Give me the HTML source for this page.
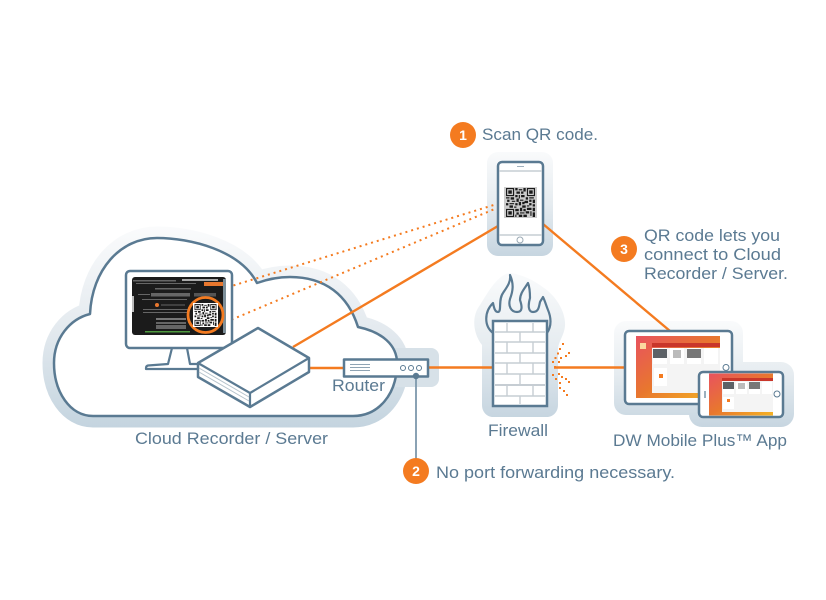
<!DOCTYPE html>
<html><head><meta charset="utf-8"><style>
html,body{margin:0;padding:0;background:#fff}
svg{display:block}
text{font-family:"Liberation Sans",sans-serif;fill:#5b7a92;font-size:17px}
.n{fill:#fff;font-weight:bold;font-size:14px;text-anchor:middle}
.o{fill:none;stroke:#f47b20;stroke-width:2.4}
.d{fill:none;stroke:#f47b20;stroke-width:2;stroke-dasharray:2 4}
.b{fill:#fff;stroke:#5a7a92;stroke-width:2.5;stroke-linejoin:round}
.g{stroke:#c6cdd3;stroke-width:1.4;fill:none}
</style></head><body>
<svg width="826" height="600" viewBox="0 0 826 600" xmlns="http://www.w3.org/2000/svg">
<defs>
<linearGradient id="h1" gradientUnits="userSpaceOnUse" x1="0" y1="228" x2="0" y2="428"><stop offset="0" stop-color="#fafbfc"/><stop offset=".5" stop-color="#e4eaef"/><stop offset="1" stop-color="#c4d4df"/></linearGradient>
<linearGradient id="h2" gradientUnits="userSpaceOnUse" x1="0" y1="150" x2="0" y2="257"><stop offset="0" stop-color="#fafbfc"/><stop offset=".5" stop-color="#e6ecf0"/><stop offset="1" stop-color="#c6d5e0"/></linearGradient>
<linearGradient id="h3" gradientUnits="userSpaceOnUse" x1="0" y1="272" x2="0" y2="418"><stop offset="0" stop-color="#fafbfc"/><stop offset=".5" stop-color="#e6ecf0"/><stop offset="1" stop-color="#c6d5e0"/></linearGradient>
<linearGradient id="h4" gradientUnits="userSpaceOnUse" x1="0" y1="320" x2="0" y2="428"><stop offset="0" stop-color="#fafbfc"/><stop offset=".5" stop-color="#e6ecf0"/><stop offset="1" stop-color="#c6d5e0"/></linearGradient>
<linearGradient id="sc" x1="0" y1="0" x2="1" y2="1"><stop offset="0" stop-color="#e8525f"/><stop offset=".5" stop-color="#e8772e"/><stop offset="1" stop-color="#f5b324"/></linearGradient>
<symbol id="qr" viewBox="0 0 25 25">
<path fill="#1a1a1a" fill-rule="evenodd" d="M0 0h7v7H0zM1 1v5h5V1zM2 2h3v3H2zM18 0h7v7h-7zM19 1v5h5V1zM20 2h3v3h-3zM0 18h7v7H0zM1 19v5h5v-5zM2 20h3v3H2zM8 0h2v2H8zM11 1h3v1h-3zM15 0h2v3h-2zM9 3h3v2H9zM13 3h2v2h-2zM8 6h2v2H8zM11 6h1v3h-1zM13 6h3v2h-3zM0 8h3v1H0zM4 8h3v2H4zM17 8h2v2h-2zM20 8h4v1h-4zM1 10h2v2H1zM5 11h3v1H5zM9 9h2v3H9zM12 10h3v1h-3zM16 11h3v2h-3zM20 10h2v2h-2zM23 10h2v3h-2zM0 13h2v2H0zM3 13h4v1H3zM8 13h2v2H8zM11 12h2v3h-2zM14 12h2v2h-2zM20 13h2v2h-2zM3 15h3v2H3zM7 16h2v1H7zM14 15h3v2h-3zM18 15h2v1h-2zM23 14h2v2h-2zM8 18h3v2H8zM12 17h2v3h-2zM15 18h2v2h-2zM18 17h4v2h-4zM23 17h2v3h-2zM9 21h2v2H9zM12 21h4v1h-4zM17 20h3v2h-3zM21 20h1v4h-1zM8 23h1v2H8zM11 23h3v2h-3zM15 23h3v2h-3zM23 21h2v4h-2z"/>
</symbol>
</defs>

<!-- halos -->
<path d="M93 416C70 416 54 392 54 363C54 338 70 319 90 314C92 270 120 238 157 238C190 238 240 250 257 283C268 279 278 277 290 277C325 277 348 295 358 327C382 332 397 345 397 363C397 395 378 416 353 416Z" fill="url(#h1)" stroke="url(#h1)" stroke-width="23" stroke-linejoin="round"/>
<rect x="380" y="348" width="59" height="39" rx="8" fill="#d7e1e8"/>
<rect x="487" y="152" width="66" height="104" rx="11" fill="url(#h2)"/>
<path d="M482 405V345C472 332 472 315 480 305C486 296 498 272 512 273C522 275 534 280 544 288C556 296 566 312 565 326C564 336 558 342 558 350V405C558 412 553 417 547 417H493C487 417 482 412 482 405Z" fill="url(#h3)"/>
<rect x="614" y="321" width="129" height="94" rx="12" fill="url(#h4)"/>
<rect x="689" y="362" width="105" height="65" rx="13" fill="url(#h4)"/>

<!-- cloud -->
<path d="M93 416C70 416 54 392 54 363C54 338 70 319 90 314C92 270 120 238 157 238C190 238 240 250 257 283C268 279 278 277 290 277C325 277 348 295 358 327C382 332 397 345 397 363C397 395 378 416 353 416Z" fill="#fff" stroke="#5a7a92" stroke-width="2.5" stroke-linejoin="round"/>

<!-- orange lines -->
<line class="d" x1="222" y1="289" x2="497" y2="204"/>
<line class="d" x1="226" y1="322" x2="497" y2="208"/>
<line class="o" x1="293" y1="347" x2="498" y2="226"/>
<line class="o" x1="305" y1="368" x2="344" y2="368"/>
<line class="o" x1="428" y1="367.500" x2="494" y2="367.500"/>
<line class="o" x1="554" y1="367.500" x2="626" y2="367.500"/>
<line class="o" x1="543" y1="224" x2="670" y2="331"/>

<!-- monitor -->
<path d="M172 348L168 364L148 365.500Q146 366 146 368V369H205M187 348L190 364H205" fill="#fff" stroke="#5a7a92" stroke-width="2.2" stroke-linejoin="round"/>
<rect x="126" y="271" width="106" height="77" rx="4" class="b"/>
<rect x="132" y="277" width="94" height="58" rx="3" fill="#1b1b1b"/>
<rect x="223" y="279" width="3" height="54" fill="#7d8f99"/>
<rect x="133" y="280" width="43" height="1.500" fill="#666"/>
<rect x="182" y="279" width="36" height="2" fill="#aaa"/>
<rect x="204" y="282" width="19" height="4" fill="#e8772e"/>
<rect x="136" y="283" width="60" height="1" fill="#666"/>
<rect x="155" y="288" width="36" height="1.500" fill="#666"/>
<rect x="138" y="294" width="12" height="1" fill="#666"/>
<rect x="151" y="293" width="39" height="3.500" fill="#666"/>
<rect x="194" y="293" width="22" height="3.500" fill="#555"/>
<rect x="142" y="299" width="45" height="1" fill="#666"/>
<rect x="132" y="296" width="2" height="16" fill="#bbb"/>
<circle cx="157" cy="305" r="2" fill="#e8772e"/>
<rect x="161" y="304.500" width="24" height="1" fill="#666"/>
<rect x="143" y="309" width="45" height="1" fill="#666"/>
<rect x="143" y="312" width="45" height="1" fill="#666"/>
<rect x="156" y="318" width="30" height="2" fill="#777"/>
<rect x="156" y="322" width="30" height="2" fill="#666"/>
<rect x="156" y="325" width="30" height="4" fill="#666"/>
<rect x="145" y="331" width="45" height="1.500" fill="#4e9a3f"/>
<circle cx="205.500" cy="315" r="17.500" fill="#1b1b1b" stroke="#f47b20" stroke-width="2.800"/>
<rect x="193" y="303" width="25" height="24" fill="#fff"/>
<use href="#qr" x="194" y="304" width="23" height="22"/>

<!-- server -->
<path d="M258 328L309 358L309 372L250 407L198 377L198 363Z" fill="#fff" stroke="#5a7a92" stroke-width="2.500" stroke-linejoin="round"/>
<path d="M198 363L250 393L309 358M250 393V407" fill="none" stroke="#5a7a92" stroke-width="2.200" stroke-linejoin="round"/>
<path d="M199 368L249 397M199 372L249 401" stroke="#b6c3cc" stroke-width="1" fill="none"/>

<!-- router -->
<rect x="344" y="359.500" width="84" height="17" class="b"/>
<path d="M350 364.500H370M350 367.500H370M350 370.500H370" stroke="#8fa4b4" stroke-width="1" fill="none"/>
<circle cx="403" cy="368" r="2.500" fill="#fff" stroke="#5a7a92"/>
<circle cx="411" cy="368" r="2.500" fill="#fff" stroke="#5a7a92"/>
<circle cx="419" cy="368" r="2.500" fill="#fff" stroke="#5a7a92"/>
<line x1="416" y1="376" x2="416" y2="460" stroke="#7d98ab" stroke-width="1.800"/>
<circle cx="416" cy="376" r="3.200" fill="#5a7a92"/>

<!-- phone -->
<rect x="498" y="162" width="45" height="83" rx="4" class="b"/>
<path d="M499 171H542M499 235H542" stroke="#c6cdd3" stroke-width="1.500"/>
<line x1="517" y1="166.500" x2="524" y2="166.500" stroke="#9fb0bd"/>
<circle cx="520" cy="240" r="3" fill="#fff" stroke="#9aa9b4"/>
<rect x="504" y="187" width="33" height="31" fill="#ccc"/>
<use href="#qr" x="505" y="188" width="31" height="29"/>

<!-- firewall -->
<path d="M493 333C484 326 484 312 493 303C494 308 495 312 498 312C502 312 498 300 503 293C507 287 511 282 510 275C514 284 513 291 510 299C508 306 511 312 517 312C523 312 522 306 520 300C520 293 525 288 528 283C530 288 530 293 530 298C528 305 528 312 533 312C539 312 539 306 540 302C541 300 542 299 543 297C545 301 546 305 548 310C551 317 552 326 547 333" fill="none" stroke="#5a7a92" stroke-width="2.200" stroke-linejoin="round"/>
<rect x="493" y="321" width="54" height="85" fill="#fff" stroke="#5a7a92" stroke-width="2.500"/>
<path class="g" d="M495 332H545M495 342H545M495 353H545M495 363H545M495 374H545M495 385H545M495 396H545"/>
<path class="g" d="M507 323V332M533 323V332M520 332V342M507 342V353M533 342V353M520 353V363M507 363V374M533 363V374M520 374V385M507 385V396M533 385V396M520 396V404"/>
<rect x="495" y="384" width="50" height="2" fill="#c6cdd3"/>
<g fill="#f47b20">
<rect x="562" y="343" width="2" height="2"/><rect x="559" y="348" width="2" height="2"/><rect x="557" y="352.500" width="2" height="2"/><rect x="568" y="352" width="2" height="2"/><rect x="565" y="355" width="2" height="2"/><rect x="560" y="357" width="2" height="2"/><rect x="554.500" y="357" width="2" height="2"/><rect x="552" y="361" width="2" height="2"/><rect x="558" y="361" width="2" height="2"/><rect x="554" y="366" width="2" height="2"/>
<rect x="552" y="374" width="2" height="2"/><rect x="558" y="373" width="2" height="2"/><rect x="561" y="376" width="2" height="2"/><rect x="565" y="378" width="2" height="2"/><rect x="568" y="381" width="2" height="2"/><rect x="555" y="378" width="2" height="2"/><rect x="559" y="382" width="2" height="2"/><rect x="559" y="387" width="2" height="2"/><rect x="563" y="390" width="2" height="2"/><rect x="566" y="394" width="2" height="2"/>
</g>

<!-- tablet -->
<rect x="625" y="331" width="107" height="73" rx="4" class="b"/>
<rect x="636" y="336" width="84" height="62" fill="url(#sc)"/>
<rect x="652" y="343" width="68" height="4" fill="#c9362a"/>
<rect x="640" y="343" width="6" height="6" fill="#fbd9a0"/>
<rect x="652" y="348" width="68" height="45" fill="#f4f4f4"/>
<rect x="653" y="348" width="14" height="16" fill="#fff"/><rect x="653" y="349" width="14" height="9" fill="#5c6166"/>
<rect x="670" y="348" width="14" height="16" fill="#fff"/><rect x="673" y="350" width="8" height="8" fill="#bbb"/>
<rect x="687" y="348" width="14" height="16" fill="#fff"/><rect x="687" y="349" width="14" height="9" fill="#777"/>
<rect x="704" y="348" width="14" height="16" fill="#fff"/>
<rect x="654" y="368" width="13" height="18" fill="#fff"/><rect x="659" y="374" width="4" height="4" fill="#f47b20"/>
<circle cx="726" cy="367.500" r="3" fill="#fff" stroke="#5a7a92"/>

<!-- small phone -->
<rect x="699" y="372" width="84" height="45" rx="4" class="b"/>
<rect x="709" y="373.500" width="64" height="42" fill="url(#sc)"/>
<rect x="722" y="378" width="51" height="3" fill="#c9362a"/>
<rect x="722" y="381" width="51" height="31" fill="#f4f4f4"/>
<rect x="723" y="382" width="11" height="12" fill="#fff"/><rect x="723" y="382" width="11" height="7" fill="#5c6166"/>
<rect x="736" y="382" width="11" height="12" fill="#fff"/><rect x="738" y="383" width="7" height="6" fill="#bbb"/>
<rect x="749" y="382" width="11" height="12" fill="#fff"/><rect x="749" y="382" width="11" height="7" fill="#777"/>
<rect x="762" y="382" width="10" height="12" fill="#fff"/>
<rect x="723" y="397" width="11" height="12" fill="#fff"/><rect x="727" y="399" width="3" height="3" fill="#f47b20"/>
<line x1="705" y1="391" x2="705" y2="398" stroke="#5a7a92" stroke-width="1.200"/>
<circle cx="777" cy="394" r="3" fill="#fff" stroke="#5a7a92"/>

<!-- badges -->
<circle cx="463" cy="135" r="13" fill="#f47b20"/><text class="n" x="463" y="140">1</text>
<circle cx="416" cy="471" r="13" fill="#f47b20"/><text class="n" x="416" y="476">2</text>
<circle cx="624" cy="249" r="13" fill="#f47b20"/><text class="n" x="624" y="254">3</text>

<!-- labels -->
<text x="482" y="140" textLength="116" lengthAdjust="spacingAndGlyphs">Scan QR code.</text>
<text x="644" y="241" textLength="136" lengthAdjust="spacingAndGlyphs">QR code lets you</text>
<text x="644" y="260" textLength="137" lengthAdjust="spacingAndGlyphs">connect to Cloud</text>
<text x="644" y="279" textLength="144" lengthAdjust="spacingAndGlyphs">Recorder / Server.</text>
<text x="436" y="478" textLength="239" lengthAdjust="spacingAndGlyphs">No port forwarding necessary.</text>
<text x="135" y="444" textLength="193" lengthAdjust="spacingAndGlyphs">Cloud Recorder / Server</text>
<text x="332" y="391" textLength="53" lengthAdjust="spacingAndGlyphs">Router</text>
<text x="488" y="436" textLength="60" lengthAdjust="spacingAndGlyphs">Firewall</text>
<text x="613" y="446" textLength="174" lengthAdjust="spacingAndGlyphs">DW Mobile Plus™ App</text>
</svg>
</body></html>
